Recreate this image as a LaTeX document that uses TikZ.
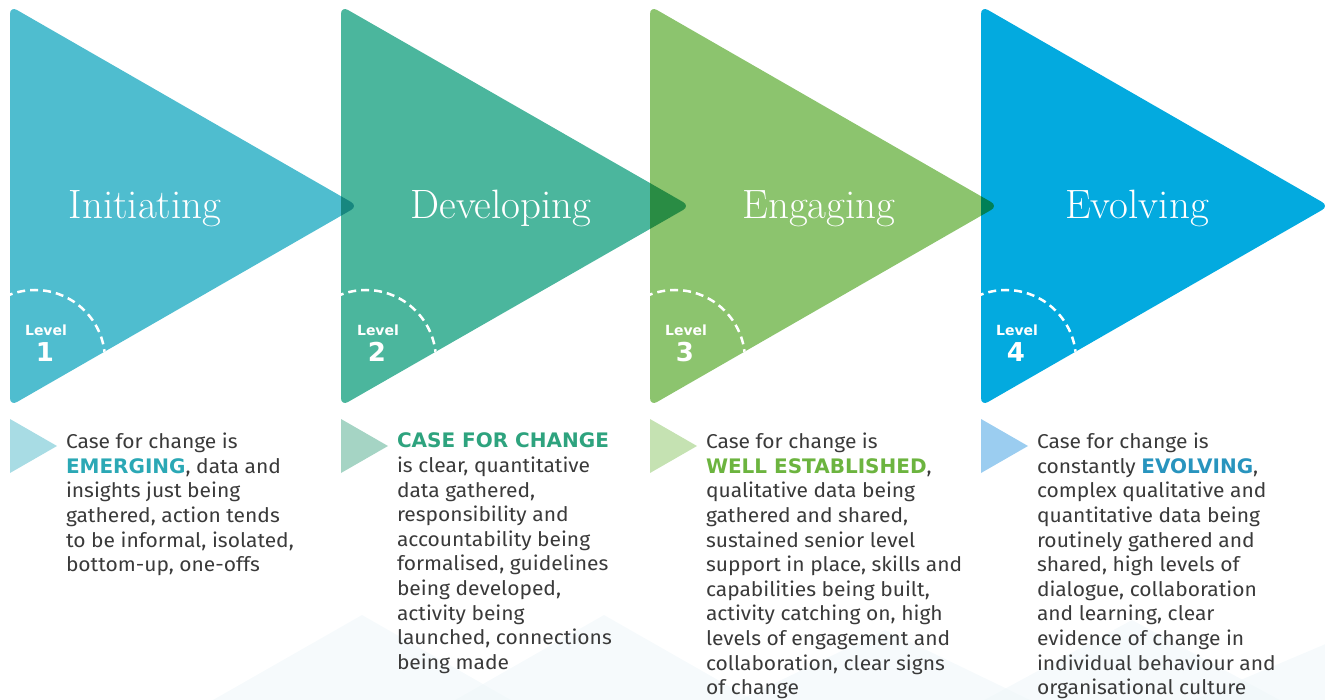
\documentclass[tikz,border=0pt]{standalone}
\usepackage{fontspec}
\setsansfont{Fira Sans}[FakeStretch=1.05]
\newfontfamily\badgefont{DejaVu Sans}
\usepackage{tikz}

\definecolor{lvlA}{RGB}{79,189,207}
\definecolor{lvlB}{RGB}{75,182,157}
\definecolor{lvlC}{RGB}{140,196,110}
\definecolor{lvlD}{RGB}{3,170,223}
\definecolor{ovAB}{RGB}{23,135,127}
\definecolor{ovBC}{RGB}{41,140,68}
\definecolor{ovCD}{RGB}{0,128,86}
\definecolor{tipA}{RGB}{168,220,228}
\definecolor{tipB}{RGB}{165,212,196}
\definecolor{tipC}{RGB}{197,226,178}
\definecolor{tipD}{RGB}{155,205,240}
\definecolor{keyA}{RGB}{43,168,181}
\definecolor{keyB}{RGB}{46,163,126}
\definecolor{keyC}{RGB}{108,180,63}
\definecolor{keyD}{RGB}{40,148,190}
\definecolor{bodytxt}{RGB}{58,58,58}
\definecolor{haze}{RGB}{238,246,249}

\newcommand{\keyword}[2]{{\badgefont\bfseries\color{#1}#2}}

\begin{document}
\begin{tikzpicture}[x=1pt, y=-1pt,
  every node/.style={inner sep=0pt, outer sep=0pt},
  bigtri/.style={rounded corners=8pt},
  titletxt/.style={white, anchor=base, font=\fontsize{41}{42}\selectfont},
  lvltxt/.style={white, font=\badgefont\bfseries\fontsize{14}{16}\selectfont},
  lvlnum/.style={white, font=\badgefont\bfseries\fontsize{26}{28}\selectfont},
  ring/.style={white, line width=2.5pt, dash pattern=on 8pt off 5pt},
  desc/.style={anchor=north west, align=left, text=bodytxt, font=\sffamily\fontsize{20}{24.6}\selectfont}]
\useasboundingbox (0,0) rectangle (1325,700);

% faint hills behind the text
\begin{scope}
\clip (0,0) rectangle (1325,700);
\fill[haze, opacity=0.5] (362,615) -- (532,712) -- (192,712) -- cycle;
\fill[haze, opacity=0.5] (604,615) -- (774,712) -- (434,712) -- cycle;
\fill[haze, opacity=0.5] (885,630) -- (1055,712) -- (715,712) -- cycle;
\fill[haze, opacity=0.5] (1132,620) -- (1302,712) -- (962,712) -- cycle;
\fill[haze, opacity=0.5] (1335,640) -- (1505,712) -- (1165,712) -- cycle;
\end{scope}

% big triangles
\fill[lvlA, bigtri] (10,6) -- (358,206) -- (10,406) -- cycle;
\fill[lvlB, bigtri] (341,6) -- (690,206) -- (341,406) -- cycle;
\fill[lvlC, bigtri] (650,6) -- (998,206) -- (650,406) -- cycle;
\fill[lvlD, bigtri] (981,6) -- (1329,206) -- (981,406) -- cycle;

% overlaps
\begin{scope}
\clip[bigtri] (10,6) -- (358,206) -- (10,406) -- cycle;
\fill[ovAB, bigtri] (341,6) -- (690,206) -- (341,406) -- cycle;
\end{scope}
\begin{scope}
\clip[bigtri] (341,6) -- (690,206) -- (341,406) -- cycle;
\fill[ovBC, bigtri] (650,6) -- (998,206) -- (650,406) -- cycle;
\end{scope}
\begin{scope}
\clip[bigtri] (650,6) -- (998,206) -- (650,406) -- cycle;
\fill[ovCD, bigtri] (981,6) -- (1329,206) -- (981,406) -- cycle;
\end{scope}

% dashed rings
\begin{scope}
\clip[bigtri] (10,6) -- (358,206) -- (10,406) -- cycle;
\draw[ring] (35,360) circle (70);
\end{scope}
\begin{scope}
\clip[bigtri] (341,6) -- (690,206) -- (341,406) -- cycle;
\draw[ring] (366,360) circle (70);
\end{scope}
\begin{scope}
\clip[bigtri] (650,6) -- (998,206) -- (650,406) -- cycle;
\draw[ring] (675,360) circle (70);
\end{scope}
\begin{scope}
\clip[bigtri] (981,6) -- (1329,206) -- (981,406) -- cycle;
\draw[ring] (1006,360) circle (70);
\end{scope}

% titles
\node[titletxt] (ti1) at (145,219) {Initiating};
\node[titletxt] (ti2) at (501,219) {Developing};
\node[titletxt] (ti3) at (819,219) {Engaging};
\node[titletxt] (ti4) at (1137,219) {Evolving};

% level badges
\node[lvltxt] (lv1) at (46,330) {Level};
\node[lvlnum] (n1) at (45,352) {1};
\node[lvltxt] (lv2) at (378,330) {Level};
\node[lvlnum] (n2) at (377,352) {2};
\node[lvltxt] (lv3) at (686,330) {Level};
\node[lvlnum] (n3) at (685,352) {3};
\node[lvltxt] (lv4) at (1017,330) {Level};
\node[lvlnum] (n4) at (1016,352) {4};

% small pointers
\fill[tipA] (10,419) -- (57,446) -- (10,473) -- cycle;
\fill[tipB] (341,419) -- (388,446) -- (341,473) -- cycle;
\fill[tipC] (650,419) -- (697,446) -- (650,473) -- cycle;
\fill[tipD] (981,419) -- (1028,446) -- (981,473) -- cycle;

% descriptions
\node[desc] (d1) at (66,433) {Case for change is\\
  \keyword{keyA}{EMERGING}, data and\\
  insights just being\\
  gathered, action tends\\
  to be informal, isolated,\\
  bottom-up, one-offs};
\node[desc] (d2) at (397,433) {\keyword{keyB}{CASE FOR CHANGE}\\
  is clear, quantitative\\
  data gathered,\\
  responsibility and\\
  accountability being\\
  formalised, guidelines\\
  being developed,\\
  activity being\\
  launched, connections\\
  being made};
\node[desc] (d3) at (706,433) {Case for change is\\
  \keyword{keyC}{WELL ESTABLISHED},\\
  qualitative data being\\
  gathered and shared,\\
  sustained senior level\\
  support in place, skills and\\
  capabilities being built,\\
  activity catching on, high\\
  levels of engagement and\\
  collaboration, clear signs\\
  of change};
\node[desc] (d4) at (1037,433) {Case for change is\\
  constantly \keyword{keyD}{EVOLVING},\\
  complex qualitative and\\
  quantitative data being\\
  routinely gathered and\\
  shared, high levels of\\
  dialogue, collaboration\\
  and learning, clear\\
  evidence of change in\\
  individual behaviour and\\
  organisational culture};
\end{tikzpicture}
\end{document}
